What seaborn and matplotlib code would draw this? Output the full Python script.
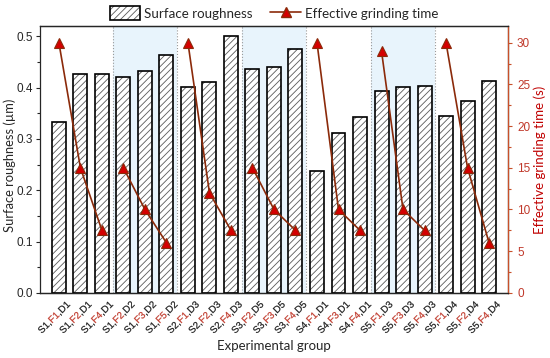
import matplotlib
matplotlib.use('Agg')
import matplotlib.pyplot as plt
import numpy as np
import pandas as pd
import seaborn as sns
from matplotlib.patches import Patch, PathPatch
from matplotlib.path import Path
from matplotlib.textpath import TextPath
from matplotlib.transforms import Affine2D, ScaledTranslation
from matplotlib.lines import Line2D
from matplotlib.legend_handler import HandlerTuple
from matplotlib.font_manager import FontProperties
from matplotlib.ticker import MultipleLocator

# data
s_part = ['S1', 'S1', 'S1', 'S1', 'S1', 'S1', 'S2', 'S2', 'S2', 'S3', 'S3', 'S3',
          'S4', 'S4', 'S4', 'S5', 'S5', 'S5', 'S5', 'S5', 'S5']
f_part = ['F1', 'F2', 'F4', 'F2', 'F3', 'F5', 'F1', 'F2', 'F4', 'F2', 'F3', 'F4',
          'F1', 'F3', 'F4', 'F1', 'F3', 'F4', 'F1', 'F2', 'F4']
d_part = ['D1', 'D1', 'D1', 'D2', 'D2', 'D2', 'D3', 'D3', 'D3', 'D5', 'D5', 'D5',
          'D1', 'D1', 'D1', 'D3', 'D3', 'D3', 'D4', 'D4', 'D4']
roughness = [0.333, 0.426, 0.427, 0.420, 0.433, 0.463, 0.401, 0.412, 0.501, 0.437, 0.441,
             0.476, 0.238, 0.312, 0.342, 0.394, 0.402, 0.404, 0.344, 0.374, 0.414]
grind_time = [30, 15, 7.5, 15, 10, 6, 30, 12, 7.5, 15, 10, 7.5,
              30, 10, 7.5, 29, 10, 7.5, 30, 15, 6]
group = [1, 1, 1, 2, 2, 2, 3, 3, 3, 4, 4, 4, 5, 5, 5, 6, 6, 6, 7, 7, 7]
shaded_groups = [2, 4, 6]

labels = [f'{s},{f},{d}' for s, f, d in zip(s_part, f_part, d_part)]
df = pd.DataFrame({'label': labels, 'roughness': roughness, 'time': grind_time,
                   'group': group, 'pos': range(len(labels))})

RED = '#c0392b'
AXRED = '#c8502a'
BROWN = '#8b2a0a'
LABEL_FONT = ['Lato', 'DejaVu Sans']

sns.set_style('ticks')
plt.rcParams['font.family'] = ['Liberation Sans', 'DejaVu Sans']
plt.rcParams['hatch.linewidth'] = 0.6
plt.rcParams['axes.linewidth'] = 0.9

fig, ax = plt.subplots(figsize=(5.5, 3.58), dpi=100)
fig.subplots_adjust(left=0.0727, right=0.9236, bottom=0.182, top=0.927)

# shaded groups and dotted separators
for g in shaded_groups:
    idx = df.index[df['group'] == g]
    ax.axvspan(idx.min() - 0.5, idx.max() + 0.5, color='#e8f4fc', lw=0, zorder=0)
for i in range(1, len(group)):
    if group[i] != group[i - 1]:
        ax.axvline(i - 0.5, color='#9a9a9a', ls=':', lw=0.8, zorder=0.5)

# bars: hatched fill then black outline
sns.barplot(data=df, x='label', y='roughness', color='white', saturation=1,
            edgecolor='#5a5a5a', linewidth=0, hatch='/////', width=0.65, ax=ax, zorder=2)
sns.barplot(data=df, x='label', y='roughness', color='black', fill=False,
            edgecolor='black', linewidth=1.2, width=0.65, ax=ax, zorder=3)

ax.set_xlim(-0.88, 20.88)
ax.set_ylim(0, 0.52)
ax.yaxis.set_major_locator(MultipleLocator(0.1))
ax.yaxis.set_minor_locator(MultipleLocator(0.05))
ax.tick_params(axis='y', which='both', direction='out', labelsize=8.5, width=0.8, pad=2)
ax.tick_params(axis='y', which='major', length=3)
ax.tick_params(axis='y', which='minor', length=2)
ax.tick_params(axis='x', direction='in', length=2.5, width=0.8)
ax.set_xticks(range(len(labels)))
ax.set_xticklabels([])
ax.set_xlabel('')
ax.set_ylabel('')
for sp in ['top', 'right']:
    ax.spines[sp].set_visible(True)

# grinding time on the right axis, one polyline per group
ax2 = ax.twinx()
sns.lineplot(data=df, x='pos', y='time', units='group', estimator=None, color=BROWN,
             lw=1.2, marker='^', markersize=7, markerfacecolor='#d40000',
             markeredgecolor=BROWN, markeredgewidth=0.8, ax=ax2, zorder=4)
ax2.set_xlim(-0.88, 20.88)
ax2.set_ylim(0, 32)
ax2.yaxis.set_major_locator(MultipleLocator(5))
ax2.yaxis.set_minor_locator(MultipleLocator(2.5))
ax2.tick_params(axis='y', which='both', direction='out', colors=AXRED,
                labelcolor=RED, labelsize=8.5, width=0.8)
ax2.tick_params(axis='y', which='major', length=3)
ax2.tick_params(axis='y', which='minor', length=2)
ax2.spines['right'].set_color(AXRED)
ax2.spines['left'].set_visible(False)
ax2.set_xlabel('')
ax2.set_ylabel('')

# axis titles
fig.text(274 / 550, 1 - 346 / 358, 'Experimental group', ha='center', va='center',
         fontsize=9.5, family=LABEL_FONT)
fig.text(10 / 550, 1 - 165 / 358, 'Surface roughness (µm)', ha='center', va='center',
         rotation=90, fontsize=9.3, family=LABEL_FONT)
fig.text(540 / 550, 1 - 160 / 358, 'Effective grinding time (s)', ha='center', va='center',
         rotation=90, fontsize=9.5, family=LABEL_FONT, color='#c00000')

# legend above the axes
bar_fill = Patch(facecolor='white', edgecolor='#5a5a5a', hatch='/////', lw=0)
bar_edge = Patch(facecolor='none', edgecolor='black', lw=1.2)
line_h = Line2D([], [], color=BROWN, lw=1.2, marker='^', markersize=7,
                markerfacecolor='#d40000', markeredgecolor=BROWN)
ax2.legend([(bar_fill, bar_edge), line_h], ['Surface roughness', 'Effective grinding time'],
           handler_map={tuple: HandlerTuple(ndivide=1)}, loc='center',
           bbox_to_anchor=(274 / 550, 1 - 13 / 358), bbox_transform=fig.transFigure,
           ncol=2, frameon=False, handlelength=2.3, handleheight=1.2, handletextpad=0.3,
           columnspacing=1.3, prop={'family': LABEL_FONT, 'size': 9.6})

# multi-coloured rotated tick labels, drawn as glyph outlines so the pieces stay aligned
tick_font = FontProperties(family='Liberation Sans')
TICK_SIZE = 7
ANGLE = 45
px = fig.dpi / 72


def split_contours(path):
    chunks, cur_v, cur_c = [], [], []
    for v, c in zip(path.vertices, path.codes):
        if c == Path.MOVETO and cur_v:
            chunks.append((cur_v, cur_c))
            cur_v, cur_c = [], []
        cur_v.append(v)
        cur_c.append(c)
    if cur_v:
        chunks.append((cur_v, cur_c))
    return chunks


for i, (s, f, d) in enumerate(zip(s_part, f_part, d_part)):
    full = TextPath((0, 0), f'{s},{f},{d}', size=TICK_SIZE, prop=tick_font)
    x_lo = TextPath((0, 0), s + ',', size=TICK_SIZE, prop=tick_font).get_extents().x1
    x_hi = TextPath((0, 0), f'{s},{f}', size=TICK_SIZE, prop=tick_font).get_extents().x1
    width = full.get_extents().x1
    black_v, black_c, red_v, red_c = [], [], [], []
    for v, c in split_contours(full):
        xc = np.mean(np.array(v)[:, 0])
        if x_lo < xc <= x_hi:
            red_v += v
            red_c += c
        else:
            black_v += v
            black_c += c
    # label end sits just right of and below the tick
    tr = (Affine2D().translate(-width, -TICK_SIZE * 0.36).rotate_deg(ANGLE)
          .scale(px).translate(9, -10)
          + ScaledTranslation(i, 0, ax.get_xaxis_transform()))
    for vv, cc, col in [(black_v, black_c, '#1a1a1a'), (red_v, red_c, RED)]:
        if vv:
            fig.add_artist(PathPatch(Path(vv, cc), transform=tr, facecolor=col,
                                     edgecolor=col, lw=0.15))

fig.savefig('out.png', dpi=100)
